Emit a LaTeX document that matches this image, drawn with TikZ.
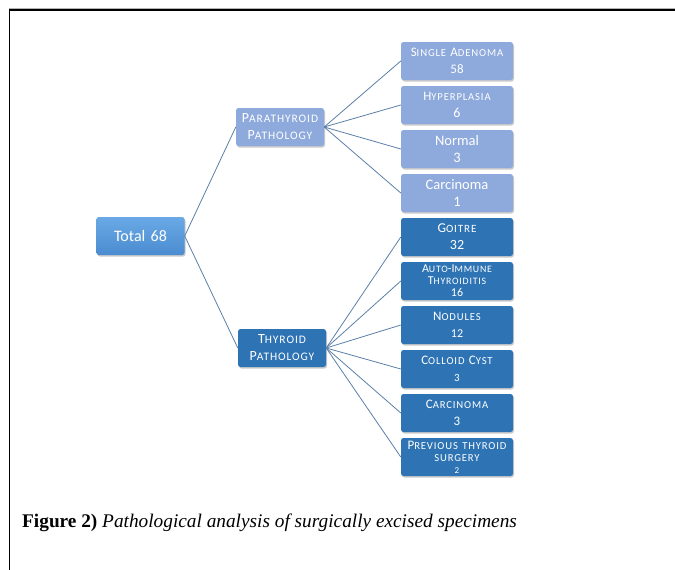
\documentclass[tikz,border=0pt]{standalone}
\usepackage{fontspec}
\setmainfont{Carlito}
\newfontfamily\scfont[LetterSpace=8]{Carlito}
\newfontfamily\capfont{Liberation Serif}
\usetikzlibrary{shadows}
\definecolor{paraC}{HTML}{8EA9DB}
\definecolor{thyC}{HTML}{2E74B5}
\definecolor{totTop}{HTML}{6AA9E6}
\definecolor{totBot}{HTML}{4A8CD0}
\definecolor{lineC}{HTML}{5B7FA6}
\makeatletter
\newcommand\fsc[2]{#1{\scfont\fontsize{\fpeval{0.82*\f@size}}{\f@baselineskip}\selectfont #2}}
\makeatother
\newcommand\fs[2]{\fontsize{#1}{#2}\selectfont}
\tikzset{
  box/.style={rounded corners=2.5pt, minimum width=112pt, minimum height=38pt,
    text width=110pt, align=center, text=white, inner sep=1pt,
    font=\fs{13}{16.5},
    drop shadow={shadow xshift=1pt, shadow yshift=-1.5pt, opacity=0.35, fill=black!60}},
  parabox/.style={box, fill=paraC},
  thybox/.style={box, fill=thyC},
  conn/.style={draw=lineC, line width=0.8pt},
}
\begin{document}
\begin{tikzpicture}[x=1pt,y=-1pt]
\useasboundingbox (0,0) rectangle (675,570);
% frame
\draw[gray!60, line width=1pt] (9,8) -- (675,8);
\draw[black, line width=1.3pt] (9.5,570) -- (9.5,10) -- (675,10);
% nodes
\node[box, minimum width=87pt, text width=86pt, top color=totTop, bottom color=totBot, font=\fs{16}{18}] (tot) at (140.5,236) {Total 68};
\node[parabox, minimum width=86pt, text width=86pt, font=\fs{14}{17}] (para) at (280,127) {\fsc{P}{ARATHYROID}\\\fsc{P}{ATHOLOGY}};
\node[thybox, minimum width=86pt, text width=86pt, font=\fs{14}{17}] (thy) at (282,348) {\fsc{T}{HYROID}\\\fsc{P}{ATHOLOGY}};
\node[parabox] (p1) at (457,61) {\fsc{S}{INGLE} \fsc{A}{DENOMA}\\58};
\node[parabox] (p2) at (457,105) {\fsc{H}{YPERPLASIA}\\\fs{14}{16.5}6};
\node[parabox, font=\fs{14.5}{17}] (p3) at (457,149) {Normal\\3};
\node[parabox, font=\fs{14.5}{17}] (p4) at (457,193) {Carcinoma\\1};
\node[thybox, font=\fs{13.5}{17}] (t1) at (457,237) {\fsc{G}{OITRE}\\\fs{14}{17}32};
\node[thybox, font=\fs{12}{12}] (t2) at (457,281) {\fsc{A}{UTO}-\fsc{I}{MMUNE}\\\fsc{T}{HYROIDITIS}\\16};
\node[thybox] (t3) at (457,325) {\fsc{N}{ODULES}\\\fs{12}{15}12};
\node[thybox] (t4) at (457,369) {\fsc{C}{OLLOID} \fsc{C}{YST}\\\fs{11}{16}3};
\node[thybox] (t5) at (457,413) {\fsc{C}{ARCINOMA}\\3};
\node[thybox, font=\fs{13}{12}] (t6) at (457,457) {\fsc{P}{REVIOUS THYROID}\\\fsc{}{SURGERY}\\\fs{9}{11}2};
% connectors
\draw[conn] (tot.east) -- (para.west);
\draw[conn] (tot.east) -- (thy.west);
\foreach \n in {p1,p2,p3,p4} \draw[conn] (para.east) -- (\n.west);
\foreach \n in {t1,t2,t3,t4,t5,t6} \draw[conn] (thy.east) -- (\n.west);
% caption
\node[anchor=base west, inner sep=0pt, font=\capfont\fs{19.3}{22}] (cap) at (22,527.5) {\textbf{Figure 2)} \textit{Pathological analysis of surgically excised specimens}};
\end{tikzpicture}
\end{document}
